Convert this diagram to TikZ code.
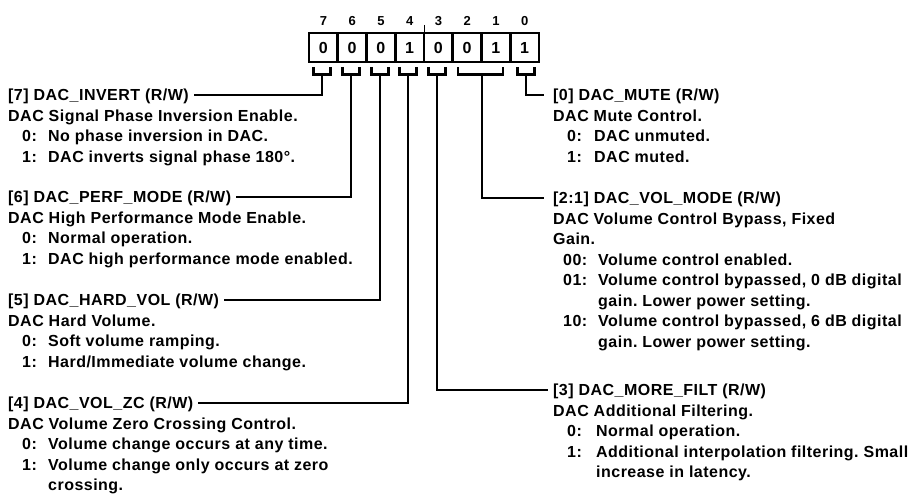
\documentclass[tikz,border=0pt]{standalone}
\usepackage{fontspec}
\setmainfont{Liberation Sans}[LetterSpace=3]
\frenchspacing
\begin{document}
\begin{tikzpicture}[x=1pt,y=-1pt,
  txt/.style={anchor=west,inner sep=0pt,text height=11.5pt,text depth=0pt,font=\bfseries\fontsize{16}{19}\selectfont},
  bitnum/.style={inner sep=0pt,font=\bfseries\fontsize{13}{15}\selectfont},
  bitval/.style={inner sep=0pt,font=\bfseries\fontsize{16}{18}\selectfont},
  conn/.style={line width=2.4pt,line cap=rect},
  brk/.style={line width=2.4pt},
  frame/.style={line width=2.6pt}]
\useasboundingbox (0,0) rectangle (914,500);
% register box
\draw[frame] (309,33) rectangle (539,62);
\foreach \i in {1,...,7} {\draw[frame] (309+\i*28.75,33) -- (309+\i*28.75,62);}
\draw[line width=1pt] (424,25) -- (424,33);
\foreach \b/\v [count=\k from 0] in {7/0,6/0,5/0,4/1,3/0,2/0,1/1,0/1} {
  \node[bitnum] (n\b) at (323.4+\k*28.75,21) {\b};
  \node[bitval] (v\b) at (323.4+\k*28.75,47.5) {\v};
}
% brackets
\foreach \c/\nm in {322/b7,351/b6,380/b5,408/b4,437/b3,526/b0} {
  \draw[brk] (\c-8.5,67) -- (\c-8.5,74.5) -- (\c+8.5,74.5) -- (\c+8.5,67);
  \coordinate (\nm) at (\c,74.5);
}
\draw[brk] (458,67) -- (458,74.5) -- (503,74.5) -- (503,67);
\coordinate (b21) at (482,74.5);
% left column
\node[txt] (t7) at (8,95) {[7] DAC\_INVERT (R/W)};
\node[txt] (d7) at (8,115.5) {DAC Signal Phase Inversion Enable.};
\node[txt] (k7a) at (22,136) {0:}; \node[txt] (e7a) at (48,136) {No phase inversion in DAC.};
\node[txt] (k7b) at (22,156.5) {1:}; \node[txt] (e7b) at (48,156.5) {DAC inverts signal phase 180°.};

\node[txt] (t6) at (8,197) {[6] DAC\_PERF\_MODE (R/W)};
\node[txt] (d6) at (8,217.5) {DAC High Performance Mode Enable.};
\node[txt] (k6a) at (22,238) {0:}; \node[txt] (e6a) at (48,238) {Normal operation.};
\node[txt] (k6b) at (22,258.5) {1:}; \node[txt] (e6b) at (48,258.5) {DAC high performance mode enabled.};

\node[txt] (t5) at (8,300) {[5] DAC\_HARD\_VOL (R/W)};
\node[txt] (d5) at (8,320.5) {DAC Hard Volume.};
\node[txt] (k5a) at (22,341) {0:}; \node[txt] (e5a) at (48,341) {Soft volume ramping.};
\node[txt] (k5b) at (22,361.5) {1:}; \node[txt] (e5b) at (48,361.5) {Hard/Immediate volume change.};

\node[txt] (t4) at (8,403) {[4] DAC\_VOL\_ZC (R/W)};
\node[txt] (d4) at (8,423.5) {DAC Volume Zero Crossing Control.};
\node[txt] (k4a) at (22,444) {0:}; \node[txt] (e4a) at (48,444) {Volume change occurs at any time.};
\node[txt] (k4b) at (22,464.5) {1:}; \node[txt] (e4b) at (48,464.5) {Volume change only occurs at zero};
\node[txt] (e4c) at (48,485) {crossing.};
% right column
\node[txt] (t0) at (553,95) {[0] DAC\_MUTE (R/W)};
\node[txt] (d0) at (553,115.5) {DAC Mute Control.};
\node[txt] (k0a) at (567,136) {0:}; \node[txt] (e0a) at (594,136) {DAC unmuted.};
\node[txt] (k0b) at (567,156.5) {1:}; \node[txt] (e0b) at (594,156.5) {DAC muted.};

\node[txt] (t21) at (553,198) {[2:1] DAC\_VOL\_MODE (R/W)};
\node[txt] (d21) at (553,218.5) {DAC Volume Control Bypass, Fixed};
\node[txt] (d21b) at (553,239) {Gain.};
\node[txt] (k21a) at (563,259.5) {00:}; \node[txt] (e21a) at (598,259.5) {Volume control enabled.};
\node[txt] (k21b) at (563,280) {01:}; \node[txt] (e21b) at (598,280) {Volume control bypassed, 0 dB digital};
\node[txt] (e21c) at (598,300.5) {gain. Lower power setting.};
\node[txt] (k21d) at (563,321) {10:}; \node[txt] (e21d) at (598,321) {Volume control bypassed, 6 dB digital};
\node[txt] (e21e) at (598,341.5) {gain. Lower power setting.};

\node[txt] (t3) at (553,390) {[3] DAC\_MORE\_FILT (R/W)};
\node[txt] (d3) at (553,410.5) {DAC Additional Filtering.};
\node[txt] (k3a) at (567,431) {0:}; \node[txt] (e3a) at (596,431) {Normal operation.};
\node[txt] (k3b) at (567,451.5) {1:}; \node[txt] (e3b) at (596,451.5) {Additional interpolation filtering. Small};
\node[txt] (e3c) at (596,472) {increase in latency.};
% connectors
\draw[conn] (b7) |- ([xshift=6pt]t7.east);
\draw[conn] (b6) |- ([xshift=6pt]t6.east);
\draw[conn] (b5) |- ([xshift=6pt]t5.east);
\draw[conn] (b4) |- ([xshift=6pt]t4.east);
\draw[conn] (b3) |- ([xshift=-6pt]t3.west);
\draw[conn] (b21) |- ([xshift=-10pt]t21.west);
\draw[conn] (b0) |- ([xshift=-10pt]t0.west);
\end{tikzpicture}
\end{document}
